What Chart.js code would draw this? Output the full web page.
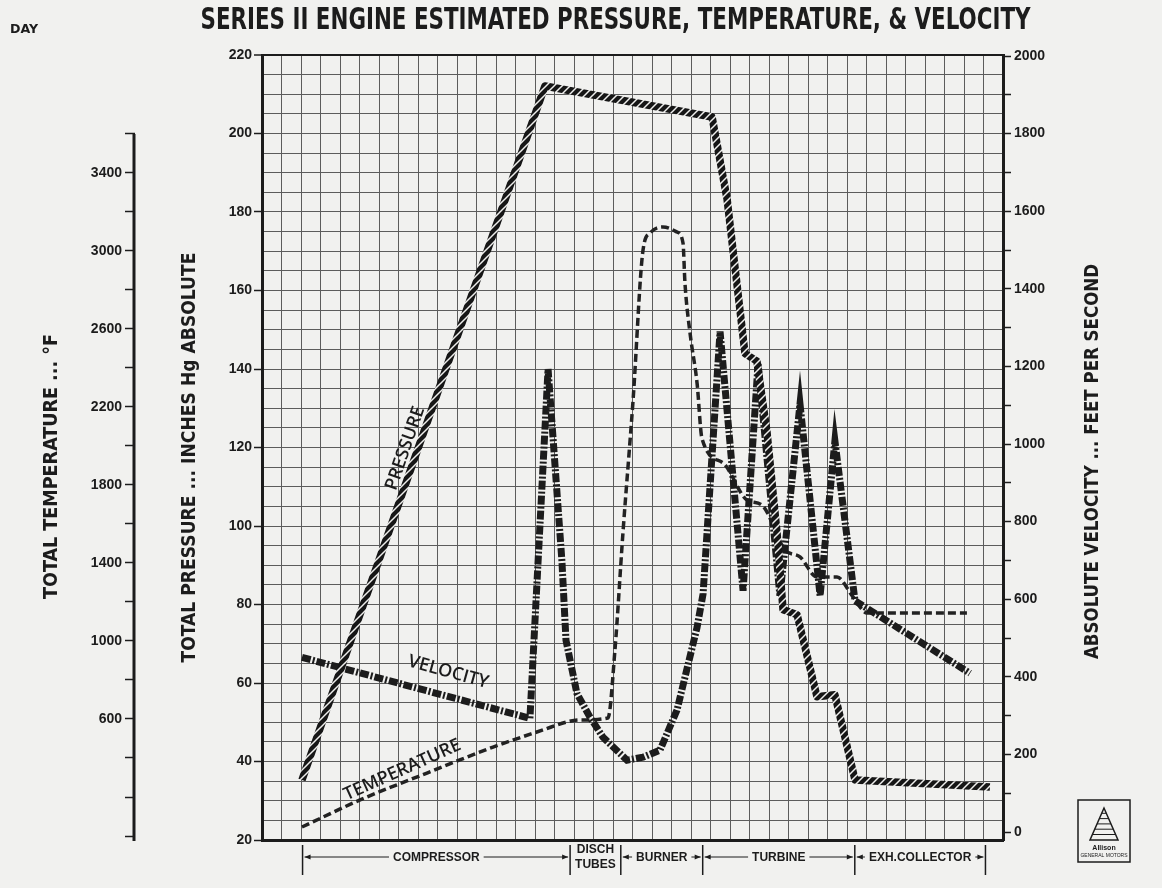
<!DOCTYPE html>
<html><head><meta charset="utf-8">
<script src="https://cdn.jsdelivr.net/npm/chart.js@4.4.1/dist/chart.umd.min.js"></script>
<style>
html,body{margin:0;padding:0;background:#f1f1ef;}
canvas{display:block;}
</style></head>
<body>
<canvas id="c" width="1162" height="888"></canvas>
<script>
// ---------------- DATA ----------------
// x = position along the engine, in grid divisions from the left edge
const xPressure      = [2.05, 14.51, 23.08, 23.85, 24.77, 25.38, 25.90, 26.41, 26.72, 27.44, 28.46, 29.38, 30.41, 37.33];
const pressureVals   = [35.3, 212.1, 204.2, 183.3, 143.9, 142.0, 123.8, 98.3, 78.7, 77.4, 56.5, 57.0, 35.3, 33.5];

const xVelocity      = [2.05, 13.74, 14.67, 15.38, 15.59, 16.15, 16.82, 17.49, 18.72, 19.54, 20.41, 21.28, 22.31, 22.62, 23.49, 24.67, 25.44, 26.56, 27.59, 28.62, 29.38, 30.41, 36.31];
const velocityVals   = [450, 293, 1193, 699, 494, 357, 296, 244, 185, 193, 211, 314, 527, 614, 1290, 622, 1208, 609, 1103, 609, 1008, 596, 409];

const xTemperature   = [2.05, 5.03, 8.46, 11.85, 14.41, 15.64, 16.31, 17.74, 18.10, 18.51, 19.03, 19.54, 19.90, 20.56, 21.28, 21.59, 21.69, 21.95, 22.31, 22.56, 23.64, 24.87, 25.64, 26.82, 27.59, 28.46, 29.49, 30.31, 31.03, 36.15];
const temperatureVals= [46, 185, 323, 456, 544, 585, 595, 605, 954, 1554, 2236, 3005, 3092, 3123, 3097, 3041, 2836, 2579, 2323, 2040, 1913, 1723, 1697, 1467, 1431, 1328, 1328, 1226, 1144, 1144];

const pressureLabels    = [20, 40, 60, 80, 100, 120, 140, 160, 180, 200, 220];
const temperatureTicks  = [0, 200, 400, 600, 800, 1000, 1200, 1400, 1600, 1800, 2000, 2200, 2400, 2600, 2800, 3000, 3200, 3400, 3600];
const temperatureLabels = [600, 1000, 1400, 1800, 2200, 2600, 3000, 3400];
const velocityTicks     = [0, 100, 200, 300, 400, 500, 600, 700, 800, 900, 1000, 1100, 1200, 1300, 1400, 1500, 1600, 1700, 1800, 1900, 2000];
const velocityLabels    = [0, 200, 400, 600, 800, 1000, 1200, 1400, 1600, 1800, 2000];

const sectionEdges = [2.08, 15.8, 18.4, 22.6, 30.4, 37.1];
const sectionNames = ['COMPRESSOR', 'DISCH\nTUBES', 'BURNER', 'TURBINE', 'EXH.COLLECTOR'];

const titleText = 'SERIES II ENGINE ESTIMATED PRESSURE, TEMPERATURE, & VELOCITY';
const tempTitle = 'TOTAL TEMPERATURE ... \u00B0F';
const presTitle = 'TOTAL PRESSURE ... INCHES Hg ABSOLUTE';
const velTitle  = 'ABSOLUTE VELOCITY ... FEET PER SECOND';

// ---------------- STYLE ----------------
const FONT_C = "'Liberation Sans Narrow','DejaVu Sans Condensed','Roboto Condensed','Liberation Sans',sans-serif";
const FONT_R = "'Liberation Sans','DejaVu Sans',sans-serif";
const FONT_L = "'Open Sans','Noto Sans',sans-serif";
const INK = '#1c1c1c';
const PAPER = '#f1f1ef';

const ctx = document.getElementById('c').getContext('2d');

function makeHatch() {
  const c = document.createElement('canvas');
  c.width = 8; c.height = 8;
  const g = c.getContext('2d');
  g.fillStyle = '#161616'; g.fillRect(0, 0, 8, 8);
  g.strokeStyle = '#eeeeec'; g.lineWidth = 1.5;
  g.beginPath(); g.moveTo(-1, 9); g.lineTo(9, -1); g.stroke();
  g.beginPath(); g.moveTo(-1, 1); g.lineTo(1, -1); g.stroke();
  g.beginPath(); g.moveTo(7, 9); g.lineTo(9, 7); g.stroke();
  return ctx.createPattern(c, 'repeat');
}

function fitText(g, text, cx, cy, width, rot, font) {
  g.save();
  g.font = font;
  const w = g.measureText(text).width;
  g.translate(cx, cy);
  g.rotate(rot);
  g.scale(width / w, 1);
  g.textAlign = 'center';
  g.textBaseline = 'middle';
  g.fillText(text, 0, 0);
  g.restore();
}

function arrow(g, x, y, dir) {
  g.beginPath();
  g.moveTo(x, y);
  g.lineTo(x - dir * 6, y - 2.5);
  g.lineTo(x - dir * 6, y + 2.5);
  g.closePath();
  g.fill();
}

const decor = {
  id: 'decor',
  beforeDraw(chart) {
    const g = chart.ctx;
    g.save();
    g.fillStyle = PAPER;
    g.fillRect(0, 0, chart.width, chart.height);
    g.restore();
  },
  afterDraw(chart) {
    const g = chart.ctx;
    const a = chart.chartArea;
    const xs = chart.scales.x, yP = chart.scales.yP, yT = chart.scales.yT, yV = chart.scales.yV;
    g.save();
    g.fillStyle = INK; g.strokeStyle = INK;

    // main title and corner word
    fitText(g, titleText, (a.left + a.right) / 2 - 17, 21, 830, 0, 'bold 30px ' + FONT_C);
    fitText(g, 'DAY', 24, 30, 28, 0, 'bold 12px ' + FONT_C);

    // axis titles
    const midY = (a.top + a.bottom) / 2;
    fitText(g, tempTitle, 52, midY + 19, 265, -Math.PI / 2, 'bold 20px ' + FONT_C);
    fitText(g, presTitle, 190, midY + 10, 410, -Math.PI / 2, 'bold 20px ' + FONT_C);
    fitText(g, velTitle, a.right + 90, midY + 14, 395, -Math.PI / 2, 'bold 20px ' + FONT_C);

    // temperature axis line
    g.lineWidth = 3;
    g.beginPath();
    g.moveTo(yT.right - 1, yT.getPixelForValue(temperatureTicks[0]) + 5);
    g.lineTo(yT.right - 1, yT.getPixelForValue(temperatureTicks[temperatureTicks.length - 1]));
    g.stroke();

    // curve labels
    const px = v => xs.getPixelForValue(v);
    const pressAng = Math.atan2(yP.getPixelForValue(pressureVals[1]) - yP.getPixelForValue(pressureVals[0]),
                                px(xPressure[1]) - px(xPressure[0]));
    g.font = '600 18px ' + FONT_L;
    g.textAlign = 'center'; g.textBaseline = 'middle';
    const lab = (t, x, y, ang) => { g.save(); g.translate(x, y); g.rotate(ang); g.fillText(t, 0, 0); g.restore(); };
    lab('PRESSURE', px(7.35), yP.getPixelForValue(119.8), pressAng);
    lab('VELOCITY', px(9.55), yV.getPixelForValue(412), 0.27);
    lab('TEMPERATURE', px(7.2), yT.getPixelForValue(338), -0.42);

    // engine sections
    const secY = a.bottom + 17;
    g.lineWidth = 1.5;
    sectionEdges.forEach(e => {
      const x = px(e);
      g.beginPath(); g.moveTo(x, a.bottom + 5); g.lineTo(x, a.bottom + 35); g.stroke();
    });
    g.font = 'bold 12px ' + FONT_R;
    g.textAlign = 'center'; g.textBaseline = 'middle';
    sectionNames.forEach((name, i) => {
      const x0 = px(sectionEdges[i]) + 2, x1 = px(sectionEdges[i + 1]) - 2;
      const mid = (x0 + x1) / 2;
      const lines = name.split('\n');
      if (lines.length > 1) {
        g.fillText(lines[0], mid, secY - 7);
        g.fillText(lines[1], mid, secY + 8);
        return;
      }
      const w = g.measureText(name).width;
      g.fillText(name, mid, secY + 1);
      g.lineWidth = 1;
      g.beginPath();
      g.moveTo(x0, secY); g.lineTo(mid - w / 2 - 4, secY);
      g.moveTo(mid + w / 2 + 4, secY); g.lineTo(x1, secY);
      g.stroke();
      arrow(g, x0, secY, -1);
      arrow(g, x1, secY, 1);
    });

    // maker's mark box
    const bx = a.right + 75, by = a.bottom - 40;
    g.lineWidth = 1.5;
    g.strokeRect(bx, by, 52, 62);
    g.beginPath();
    g.moveTo(bx + 26, by + 8); g.lineTo(bx + 12, by + 40); g.lineTo(bx + 40, by + 40); g.closePath();
    g.stroke();
    g.lineWidth = 1;
    for (let k = 1; k < 6; k++) {
      const yy = by + 8 + k * 5.3;
      const half = (yy - by - 8) * 14 / 32;
      g.beginPath(); g.moveTo(bx + 26 - half, yy); g.lineTo(bx + 26 + half, yy); g.stroke();
    }
    g.font = 'bold 7px ' + FONT_R;
    g.fillText('Allison', bx + 26, by + 48);
    g.font = '5px ' + FONT_R;
    g.fillText('GENERAL MOTORS', bx + 26, by + 56);
    g.restore();
  }
};

const tickFont = { family: FONT_R, size: 14, weight: 'bold' };

new Chart(ctx, {
  type: 'line',
  data: {
    datasets: [
      {
        label: 'Pressure', yAxisID: 'yP',
        data: xPressure.map((x, i) => ({ x, y: pressureVals[i] })),
        borderColor: makeHatch(), borderWidth: 7.5, pointRadius: 0, tension: 0,
        borderJoinStyle: 'round', borderCapStyle: 'butt'
      },
      {
        label: 'Velocity', yAxisID: 'yV',
        data: xVelocity.map((x, i) => ({ x, y: velocityVals[i] })),
        borderColor: INK, borderWidth: 7, borderDash: [9, 2, 2, 2], pointRadius: 0, tension: 0,
        borderJoinStyle: 'miter'
      },
      {
        label: 'Temperature', yAxisID: 'yT',
        data: xTemperature.map((x, i) => ({ x, y: temperatureVals[i] })),
        borderColor: '#222', borderWidth: 3.5, borderDash: [8, 4], pointRadius: 0,
        cubicInterpolationMode: 'monotone'
      }
    ]
  },
  options: {
    responsive: false, animation: false, devicePixelRatio: 1,
    layout: { padding: { top: 55, left: 0, right: 0, bottom: 0 } },
    plugins: { legend: { display: false }, tooltip: { enabled: false }, title: { display: false } },
    scales: {
      x: {
        type: 'linear', min: 0, max: 38,
        ticks: { display: false, stepSize: 1, maxTicksLimit: 100 },
        grid: { color: '#5c5c5c', lineWidth: 1, drawTicks: false },
        border: { color: INK, width: 3 },
        afterFit: s => { s.height = 48; }
      },
      yT: {
        position: 'left', weight: 2, min: -20.5, max: 4005,
        afterBuildTicks: s => { s.ticks = temperatureTicks.map(v => ({ value: v })); },
        ticks: {
          font: tickFont, color: INK, padding: 3, autoSkip: false,
          callback: v => temperatureLabels.includes(v) ? String(v) : ''
        },
        grid: { drawOnChartArea: false, tickLength: 10, tickColor: INK, tickWidth: 1.5 },
        border: { display: false },
        afterFit: s => { s.width = 135; }
      },
      yP: {
        position: 'left', weight: 1, min: 20, max: 220,
        ticks: {
          font: tickFont, color: INK, padding: 2, stepSize: 5, autoSkip: false, maxTicksLimit: 100,
          callback: v => pressureLabels.includes(v) ? String(v) : ''
        },
        grid: {
          color: c => c.tick && c.tick.value === 220 ? INK : '#5c5c5c',
          lineWidth: c => c.tick && c.tick.value === 220 ? 2 : 1,
          tickLength: 8,
          tickColor: c => c.tick && pressureLabels.includes(c.tick.value) ? INK : 'rgba(0,0,0,0)',
          tickWidth: 1.5
        },
        border: { color: INK, width: 3 },
        afterFit: s => { s.width = 127; }
      },
      yV: {
        position: 'right', min: -20.6, max: 2002.6,
        afterBuildTicks: s => { s.ticks = velocityTicks.map(v => ({ value: v })); },
        ticks: {
          font: tickFont, color: INK, padding: 3, autoSkip: false,
          callback: v => velocityLabels.includes(v) ? String(v) : ''
        },
        grid: { drawOnChartArea: false, tickLength: 8, tickColor: INK, tickWidth: 1.5 },
        border: { color: INK, width: 3 },
        afterFit: s => { s.width = 159; }
      }
    }
  },
  plugins: [decor]
});
</script>
</body></html>
